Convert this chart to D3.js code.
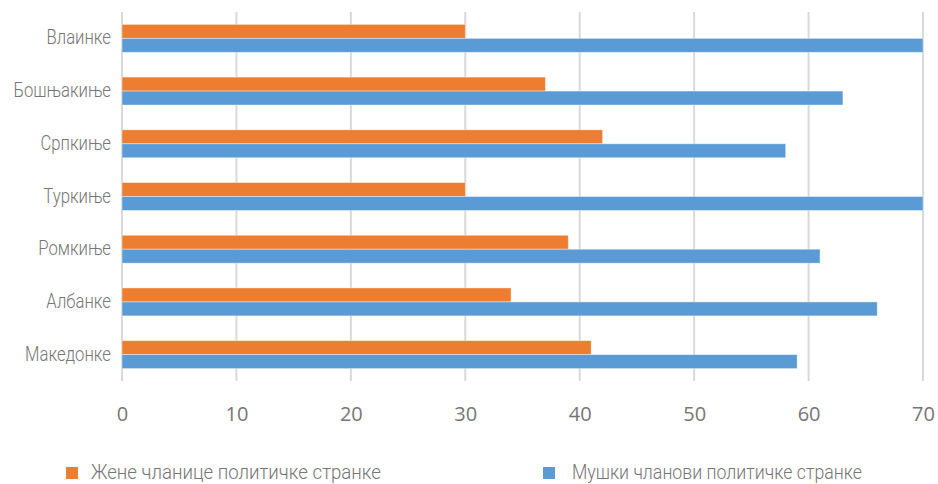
<!DOCTYPE html>
<html><head><meta charset="utf-8">
<script src="https://cdn.jsdelivr.net/npm/d3@7"></script>
<style>
html,body{margin:0;padding:0;background:#fff;}
.cond{font-family:Roboto,"DejaVu Sans Condensed",sans-serif;font-weight:300;font-style:normal;}
.tick text{font-family:"Open Sans",sans-serif;}
</style></head>
<body><svg id="c" width="938" height="484"></svg>
<script>
const categories = ["Влаинке","Бошњакиње","Српкиње","Туркиње","Ромкиње","Албанке","Македонке"];
const womenValues = [30,37,42,30,39,34,41];
const menValues = [70,63,58,70,61,66,59];
const seriesNames = ["Жене чланице политичке странке","Мушки чланови политичке странке"];
const seriesColors = ["#ED7D31","#5B9BD5"];
const xTicks = [0,10,20,30,40,50,60,70];

(function(){
const svg = d3.select("#c");
const mL = 122, mR = 923, mT = 12, mB = 381;
const x = d3.scaleLinear().domain([0,70]).range([mL,mR]);
const y = d3.scaleBand().domain(categories).range([mT,mB]).paddingInner(0.47).paddingOuter(0.235);
const sub = d3.scaleBand().domain([0,1]).range([0,y.bandwidth()]);

svg.append("g").selectAll("line").data(xTicks).join("line")
  .attr("x1",d=>x(d)).attr("x2",d=>x(d)).attr("y1",mT).attr("y2",mB)
  .attr("stroke","#d9d9d9").attr("stroke-width",2);

const data = categories.map((c,i)=>({c, vals:[womenValues[i],menValues[i]]}));
const g = svg.append("g");
data.forEach(d=>{
  d.vals.forEach((v,j)=>{
    g.append("rect").attr("x",x(0)).attr("y",y(d.c)+sub(j))
     .attr("width",x(v)-x(0)).attr("height",sub.bandwidth())
     .attr("fill",seriesColors[j]).attr("stroke","#fff").attr("stroke-opacity",0.5).attr("stroke-width",0.8);
  });
});

const labs = svg.append("g").selectAll("text").data(categories).join("text")
  .attr("class","cond")
  .attr("x",111).attr("y",d=>y(d)+y.bandwidth()/2+6).attr("text-anchor","end")
  .attr("fill","#767676").attr("font-size",20).text(d=>d);
const refNode = labs.filter(d=>d==="Македонке").node();
const k = 86/refNode.getComputedTextLength();
labs.each(function(){ const w=this.getComputedTextLength(); d3.select(this).attr("textLength",w*k).attr("lengthAdjust","spacingAndGlyphs"); });

const xa = svg.append("g").attr("transform",`translate(0,${mB})`)
  .call(d3.axisBottom(x).tickValues(xTicks).tickSize(0).tickPadding(26));
xa.select(".domain").remove();
xa.selectAll("text").attr("fill","#767676").attr("font-size",20);

const leg = svg.append("g");
const legX = [66,543];
const legTextX = [91,572];
seriesNames.forEach((n,i)=>{
  leg.append("rect").attr("x",legX[i]).attr("y",467).attr("width",12).attr("height",12).attr("fill",seriesColors[i]);
  const t = leg.append("text").attr("class","cond").attr("x",legTextX[i]).attr("y",479)
    .attr("fill","#767676").attr("font-size",20).text(n);
  t.attr("textLength",290).attr("lengthAdjust","spacingAndGlyphs");
});
})();
</script></body></html>
